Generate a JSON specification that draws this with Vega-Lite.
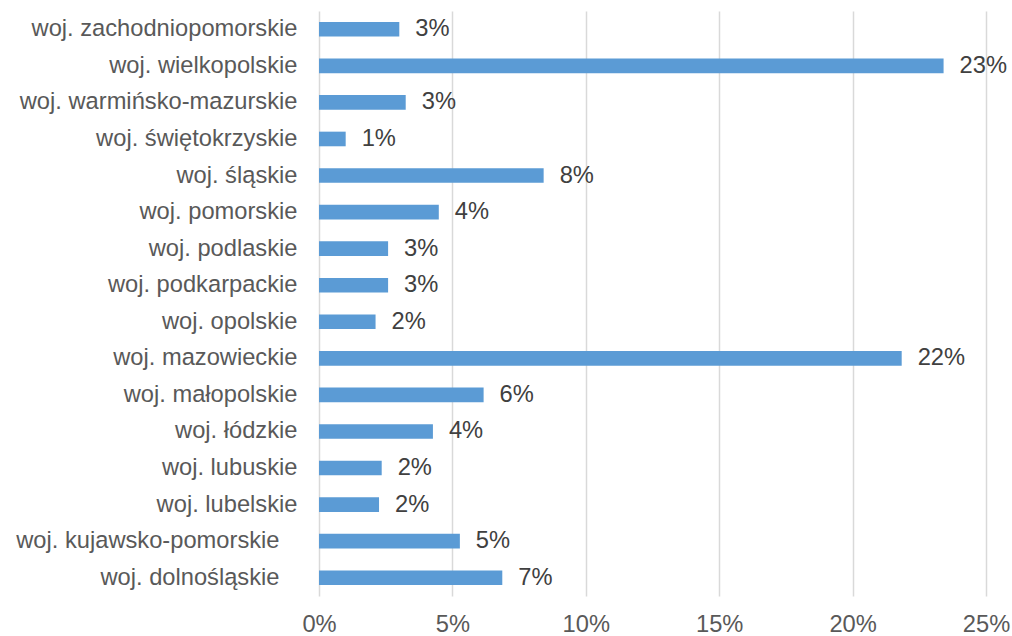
{
  "$schema": "https://vega.github.io/schema/vega-lite/v6.json",
  "autosize": {"type": "none"},
  "padding": {"left": 319, "top": 11, "right": 26, "bottom": 40},
  "width": 667,
  "height": 585,
  "background": "white",
  "config": {
    "font": "Liberation Sans",
    "view": {"stroke": null}
  },
  "data": {
    "values": [
      {"region": "woj. zachodniopomorskie", "share": 0.0301},
      {"region": "woj. wielkopolskie", "share": 0.2341},
      {"region": "woj. warmińsko-mazurskie", "share": 0.0325},
      {"region": "woj. świętokrzyskie", "share": 0.0100},
      {"region": "woj. śląskie", "share": 0.0842},
      {"region": "woj. pomorskie", "share": 0.0449},
      {"region": "woj. podlaskie", "share": 0.0259},
      {"region": "woj. podkarpackie", "share": 0.0259},
      {"region": "woj. opolskie", "share": 0.0212},
      {"region": "woj. mazowieckie", "share": 0.2184},
      {"region": "woj. małopolskie", "share": 0.0617},
      {"region": "woj. łódzkie", "share": 0.0427},
      {"region": "woj. lubuskie", "share": 0.0235},
      {"region": "woj. lubelskie", "share": 0.0225},
      {"region": "woj. kujawsko-pomorskie\u2800", "share": 0.0528},
      {"region": "woj. dolnośląskie\u2800", "share": 0.0687}
    ]
  },
  "encoding": {
    "y": {
      "field": "region",
      "type": "nominal",
      "sort": null,
      "title": null,
      "scale": {"paddingInner": 0.6, "paddingOuter": 0.3},
      "axis": {
        "domain": false,
        "ticks": false,
        "tickSize": 0,
        "labelPadding": 22,
        "labelLimit": 400,
        "labelFontSize": 23.7,
        "labelColor": "#595959",
        "labelFont": "Liberation Sans",
        "grid": false
      }
    },
    "x": {
      "field": "share",
      "type": "quantitative",
      "title": null,
      "scale": {"domain": [0, 0.25], "nice": false},
      "axis": {
        "format": ".0%",
        "values": [0, 0.05, 0.1, 0.15, 0.2, 0.25],
        "domain": false,
        "ticks": false,
        "tickSize": 0,
        "grid": true,
        "gridColor": "#d9d9d9",
        "gridWidth": 1.5,
        "labelPadding": 16,
        "labelFontSize": 23.7,
        "labelColor": "#595959",
        "labelFont": "Liberation Sans",
        "labelFlush": false
      }
    }
  },
  "layer": [
    {
      "mark": {"type": "bar", "color": "#5b9bd5"}
    },
    {
      "mark": {
        "type": "text",
        "align": "left",
        "baseline": "middle",
        "dx": 16,
        "fontSize": 23.7,
        "color": "#404040",
        "font": "Liberation Sans"
      },
      "encoding": {
        "text": {"field": "share", "type": "quantitative", "format": ".0%"}
      }
    }
  ]
}
